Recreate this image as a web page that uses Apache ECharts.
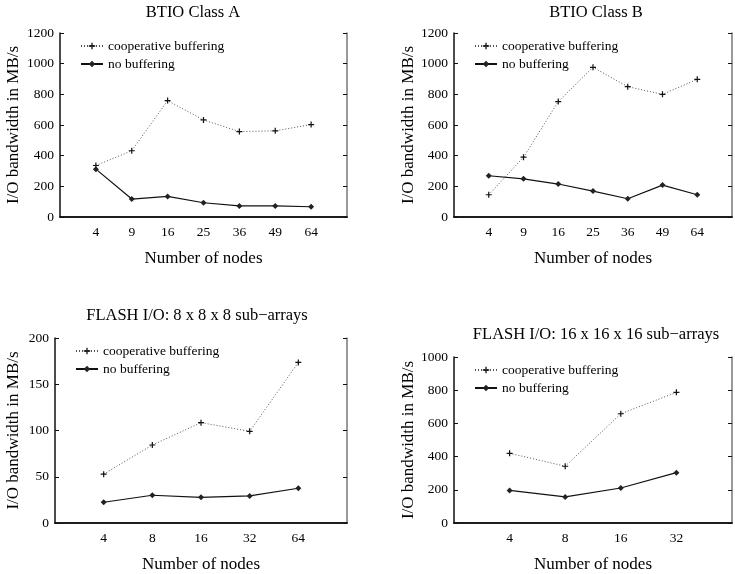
<!DOCTYPE html>
<html>
<head>
<meta charset="utf-8"/>
<script src="https://cdn.jsdelivr.net/npm/echarts@6.0.0/dist/echarts.min.js"></script>
<style>
  body { margin: 0; background: #fff; }
</style>
</head>
<body>
<div id="main" style="width: 735px;height: 574px;"></div>
<script>
// x categories (number of nodes) and values, MB/s
var nodesA = ['4', '9', '16', '25', '36', '49', '64'];
var coopA = [336, 432, 759, 633, 557, 562, 603];
var noneA = [312, 117, 134, 93, 72, 72, 67];

var nodesB = ['4', '9', '16', '25', '36', '49', '64'];
var coopB = [145, 390, 753, 976, 850, 800, 898];
var noneB = [269, 249, 215, 169, 119, 208, 145];

var nodesC = ['4', '8', '16', '32', '64'];
var coopC = [52.8, 84.3, 108.5, 99.1, 173.6];
var noneC = [22.4, 30, 27.8, 29.3, 37.6];

var nodesD = ['4', '8', '16', '32'];
var coopD = [420, 342, 658, 787];
var noneD = [196, 157, 211, 303];

var titles = ['BTIO Class A', 'BTIO Class B', 'FLASH I/O: 8 x 8 x 8 sub\u2212arrays', 'FLASH I/O: 16 x 16 x 16 sub\u2212arrays'];

var FONT = 'Liberation Serif';

// panel layout
var panels = [
  { nodes: nodesA, coop: coopA, none: noneA, max: 1200, step: 200, yGap: 38, grid: { left: 60, top: 33, width: 287, height: 184 }, title: [193, 4] },
  { nodes: nodesB, coop: coopB, none: noneB, max: 1200, step: 200, yGap: 35.5, grid: { left: 454, top: 33, width: 288, height: 184 }, title: [596, 4] },
  { nodes: nodesC, coop: coopC, none: noneC, max: 200, step: 50, yGap: 32.5, grid: { left: 55, top: 338, width: 292, height: 185 }, title: [197, 307] },
  { nodes: nodesD, coop: coopD, none: noneD, max: 1000, step: 200, yGap: 35.5, grid: { left: 454, top: 357, width: 288, height: 166 }, title: [596, 326] }
];

var plus = 'path://M2,0H3V5H2Z M0,2H5V3H0Z';

var option = {
  animation: false,
  backgroundColor: '#fff',
  textStyle: { fontFamily: FONT, color: '#000' },
  title: [], grid: [], xAxis: [], yAxis: [], series: [], legend: []
};

panels.forEach(function (p, i) {
  var cats = [''].concat(p.nodes, ['']);
  var pad = function (arr) { return [null].concat(arr, [null]); };
  option.title.push({
    text: titles[i], left: p.title[0], top: p.title[1], textAlign: 'center', padding: 0,
    textStyle: { fontFamily: FONT, fontSize: 16.5, fontWeight: 'normal', color: '#000' }
  });
  option.grid.push(p.grid);
  // bottom axis
  option.xAxis.push({
    type: 'category', gridIndex: i, data: cats, boundaryGap: false,
    axisLine: { lineStyle: { color: '#111', width: 1.5 } },
    axisTick: { show: false },
    axisLabel: { interval: 0, margin: 8, fontFamily: FONT, fontSize: 13.5, color: '#000' },
    name: 'Number of nodes', nameLocation: 'middle', nameGap: 33,
    nameTextStyle: { fontFamily: FONT, fontSize: 17, color: '#000' }
  });
  // top border
  option.xAxis.push({
    type: 'category', gridIndex: i, data: cats, boundaryGap: false, position: 'top',
    axisLine: { lineStyle: { color: '#111', width: 1.5 } },
    axisTick: { show: false }, axisLabel: { show: false }
  });
  // left axis
  option.yAxis.push({
    type: 'value', gridIndex: i, min: 0, max: p.max, interval: p.step,
    axisLine: { show: true, lineStyle: { color: '#111', width: 1.5 } },
    axisTick: { show: true, inside: true, length: 4, lineStyle: { color: '#111' } },
    splitLine: { show: false },
    axisLabel: { margin: 6, fontFamily: FONT, fontSize: 13.5, color: '#000', formatter: function (v) { return String(v); } },
    name: 'I/O bandwidth in MB/s', nameLocation: 'middle', nameGap: p.yGap,
    nameTextStyle: { fontFamily: FONT, fontSize: 17, color: '#000' }
  });
  // right border
  option.yAxis.push({
    type: 'value', gridIndex: i, min: 0, max: p.max, interval: p.step, position: 'right',
    axisLine: { show: true, lineStyle: { color: '#777', width: 1.5 } },
    axisTick: { show: true, inside: true, length: 4, lineStyle: { color: '#111' } },
    splitLine: { show: false }, axisLabel: { show: false }
  });
  option.series.push({
    name: 'cooperative buffering', type: 'line', xAxisIndex: 2 * i, yAxisIndex: 2 * i,
    data: pad(p.coop), symbol: plus, symbolSize: 6,
    itemStyle: { color: '#111' },
    lineStyle: { color: '#555', width: 1, type: [1, 2] }
  });
  option.series.push({
    name: 'no buffering', type: 'line', xAxisIndex: 2 * i, yAxisIndex: 2 * i,
    data: pad(p.none), symbol: 'diamond', symbolSize: 6,
    itemStyle: { color: '#222' },
    lineStyle: { color: '#111', width: 1.2 }
  });
  option.legend.push({
    orient: 'vertical', padding: 0,
    left: p.grid.left + 20, top: p.grid.top + 6,
    itemWidth: 22, itemHeight: 8, itemGap: 4,
    selectedMode: false,
    textStyle: { fontFamily: FONT, fontSize: 13.5, color: '#000' },
    data: ['cooperative buffering', 'no buffering']
  });
});

var myChart = echarts.init(document.getElementById('main'));
myChart.setOption(option);
</script>
</body>
</html>
